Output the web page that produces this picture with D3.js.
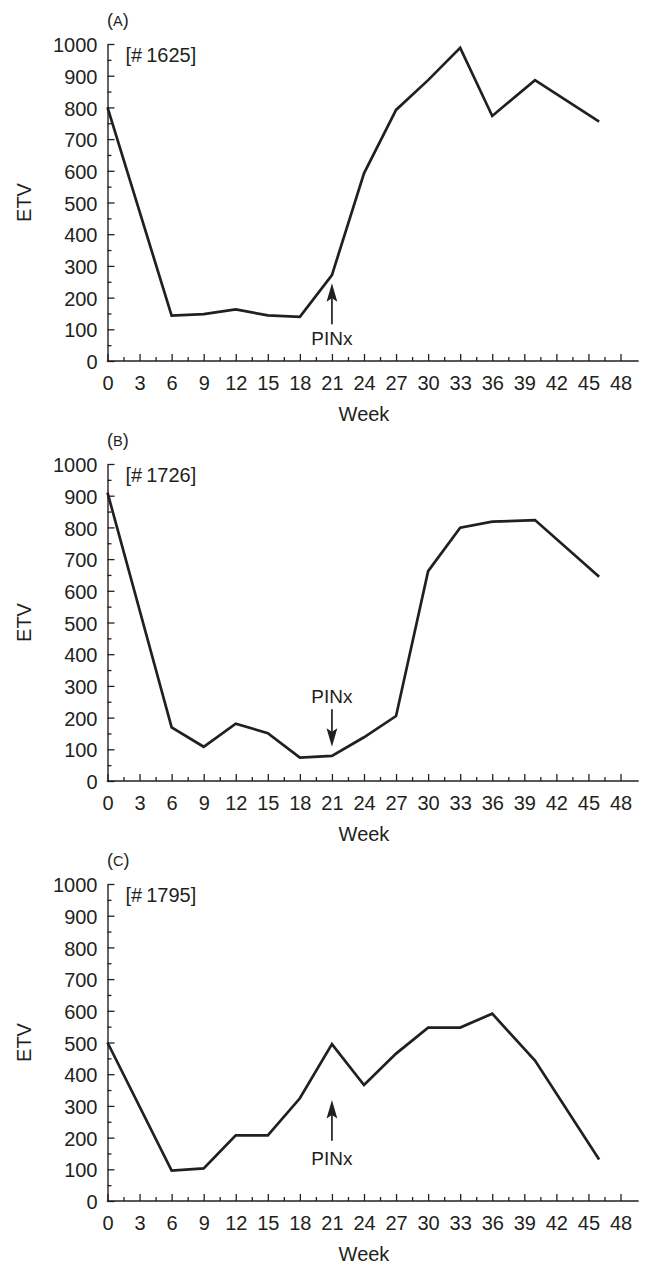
<!DOCTYPE html>
<html>
<head>
<meta charset="utf-8">
<script src="https://cdn.jsdelivr.net/npm/d3@7"></script>
<style>
  html, body { margin: 0; padding: 0; background: #fff; }
  svg { display: block; }
  text { font-family: "Liberation Sans", Arial, Helvetica, sans-serif; fill: #231f20; }
</style>
</head>
<body>
<svg id="chart" width="648" height="1265"></svg>
<script>
// ETV by week for three subjects; PINx marks the intervention week.
const panelLetters = ["A", "B", "C"];
const subjectIds = ["[#1625]", "[#1726]", "[#1795]"];

const weeksA = [0, 6, 9, 12, 15, 18, 21, 24, 27, 30, 33, 36, 40, 46];
const etvA   = [800, 143, 148, 163, 144, 139, 271, 592, 792, 886, 988, 773, 886, 755];

const weeksB = [0, 6, 9, 12, 15, 18, 21, 24, 27, 30, 33, 36, 40, 46];
const etvB   = [910, 169, 108, 181, 151, 74, 79, 138, 205, 662, 799, 818, 823, 644];

const weeksC = [0, 6, 9, 12, 15, 18, 21, 24, 27, 30, 33, 36, 40, 46];
const etvC   = [500, 96, 103, 207, 207, 324, 495, 366, 465, 547, 547, 591, 443, 131];

// PINx arrow: week, arrow tip value, arrow tail value, label baseline value
const pinxWeek = 21;
const pinxTip   = [245, 108, 319];
const pinxTail  = [116, 226, 190];
const pinxLabel = [50, 245, 114];

const xTicks = d3.range(0, 49, 3);
const xMinorTicks = d3.range(1.5, 48, 3);
const yTicks = d3.range(0, 1001, 100);
const yMinorTicks = d3.range(50, 1000, 100);

const series = [
  { weeks: weeksA, etv: etvA },
  { weeks: weeksB, etv: etvB },
  { weeks: weeksC, etv: etvC }
];

const ink = "#231f20";
const svg = d3.select("#chart");

const x = d3.scaleLinear().domain([0, 48]).range([107.5, 620.5]);
const xAxisEnd = 49.7;

series.forEach((s, i) => {
  const off = i * 420;
  const y = d3.scaleLinear().domain([0, 1000]).range([361 + off, 44 + off]);
  const g = svg.append("g");
  const y0 = y(0);

  // y axis: major ticks with labels, minor ticks between
  const ya = g.append("g").attr("transform", `translate(${x(0)},0)`)
    .call(d3.axisLeft(y).tickValues(yTicks).tickFormat(d3.format("d"))
      .tickSize(-7).tickSizeOuter(0).tickPadding(10));
  ya.select(".domain").attr("stroke", ink).attr("stroke-width", 1.4);
  ya.selectAll(".tick line").attr("stroke", ink).attr("stroke-width", 1.3);
  ya.selectAll(".tick text").attr("font-size", 20).attr("font-family", null).attr("fill", ink).attr("dy", "0.38em");
  const yb = g.append("g").attr("transform", `translate(${x(0)},0)`)
    .call(d3.axisLeft(y).tickValues(yMinorTicks).tickSize(-4).tickFormat(""));
  yb.select(".domain").remove();
  yb.selectAll(".tick line").attr("stroke", ink).attr("stroke-width", 1.3);

  // x axis
  const xa = g.append("g").attr("transform", `translate(0,${y0})`)
    .call(d3.axisBottom(x).tickValues(xTicks).tickFormat(d3.format("d"))
      .tickSize(-7).tickPadding(15));
  xa.select(".domain").remove();
  xa.selectAll(".tick line").attr("stroke", ink).attr("stroke-width", 1.3);
  xa.selectAll(".tick text").attr("font-size", 20).attr("font-family", null).attr("fill", ink);
  const xb = g.append("g").attr("transform", `translate(0,${y0})`)
    .call(d3.axisBottom(x).tickValues(xMinorTicks).tickSize(-4).tickFormat(""));
  xb.select(".domain").remove();
  xb.selectAll(".tick line").attr("stroke", ink).attr("stroke-width", 1.3);
  g.append("line")
    .attr("x1", x(0) - 0.7).attr("x2", x(xAxisEnd))
    .attr("y1", y0).attr("y2", y0)
    .attr("stroke", ink).attr("stroke-width", 1.4);

  // axis titles
  g.append("text")
    .attr("x", (x(0) + x(48)) / 2).attr("y", y0 + 60)
    .attr("text-anchor", "middle").attr("font-size", 20)
    .text("Week");
  g.append("text")
    .attr("transform", `translate(31,${(y(0) + y(1000)) / 2}) rotate(-90)`)
    .attr("text-anchor", "middle").attr("font-size", 20)
    .text("ETV");

  // panel letter (small caps) and subject id
  const pl = g.append("text").attr("x", x(0) - 0.5).attr("y", 25.5 + off).attr("font-size", 18);
  pl.append("tspan").text("(");
  pl.append("tspan").attr("font-size", 14.5).text(panelLetters[i]);
  pl.append("tspan").text(")");
  const sid = subjectIds[i];
  const st = g.append("text").attr("x", x(0) + 18).attr("y", y(1000) + 18).attr("font-size", 20);
  st.append("tspan").text(sid.slice(0, 2));
  st.append("tspan").attr("dx", 4).text(sid.slice(2));

  // data line
  const pts = s.weeks.map((w, k) => [w, s.etv[k]]);
  g.append("path")
    .datum(pts)
    .attr("fill", "none")
    .attr("stroke", ink)
    .attr("stroke-width", 2.7)
    .attr("stroke-linejoin", "miter")
    .attr("d", d3.line().x(d => x(d[0])).y(d => y(d[1])));

  // PINx arrow
  const ax = x(pinxWeek);
  const tipY = y(pinxTip[i]);
  const tailY = y(pinxTail[i]);
  const dir = tailY > tipY ? 1 : -1;   // +1: arrow points up
  const headLen = 18.5, headHalf = 5.4, notch = 15;
  g.append("line")
    .attr("x1", ax).attr("x2", ax)
    .attr("y1", tailY).attr("y2", tipY + dir * notch)
    .attr("stroke", ink).attr("stroke-width", 1.7);
  g.append("path")
    .attr("fill", ink)
    .attr("d", `M${ax},${tipY} L${ax - headHalf},${tipY + dir * headLen} L${ax},${tipY + dir * notch} L${ax + headHalf},${tipY + dir * headLen} Z`);
  g.append("text")
    .attr("x", ax).attr("y", y(pinxLabel[i]))
    .attr("text-anchor", "middle").attr("font-size", 19)
    .text("PINx");
});
</script>
</body>
</html>
